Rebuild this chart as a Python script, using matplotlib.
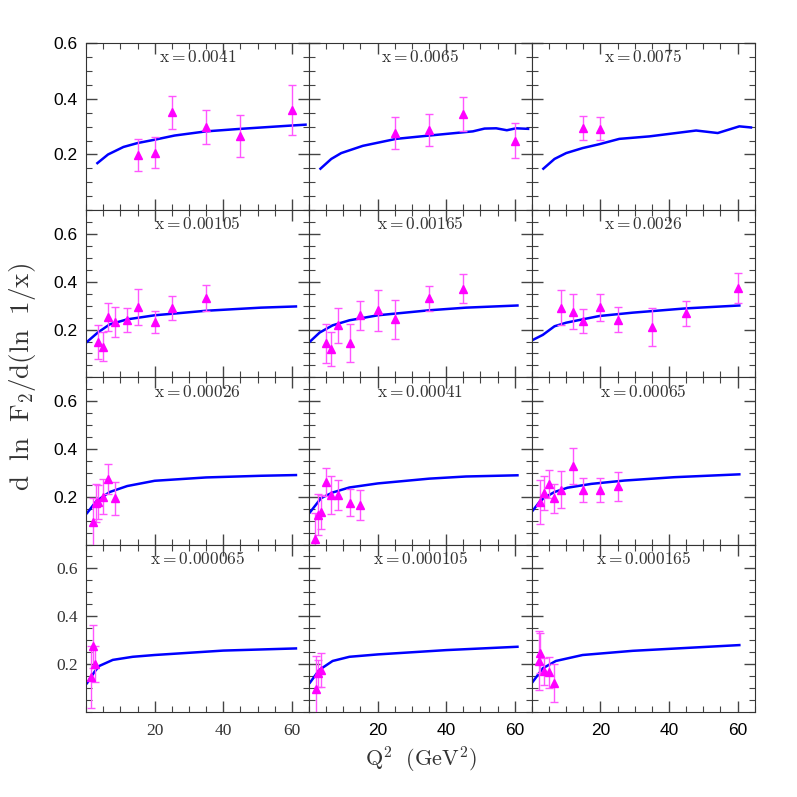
import matplotlib
matplotlib.use("Agg")
import matplotlib.pyplot as plt
from matplotlib.ticker import MultipleLocator

plt.rcParams["mathtext.fontset"] = "cm"

# panel order: row by row, left to right
XBINS = ["0.0041", "0.0065", "0.0075",
         "0.00105", "0.00165", "0.0026",
         "0.00026", "0.00041", "0.00065",
         "0.000065", "0.000105", "0.000165"]

# data points (Q^2, slope, error) per panel
Q_PTS = [
    [15, 20, 25, 35, 45, 60],
    [25, 35, 45, 60],
    [15, 20],
    [3.5, 5, 6.5, 8.5, 12, 15, 20, 25, 35],
    [5, 6.5, 8.5, 12, 15, 20, 25, 35, 45],
    [8.5, 12, 15, 20, 25, 35, 45, 60],
    [2.1, 2.9, 3.6, 5, 6.5, 8.5],
    [1.9, 2.5, 3.5, 5, 6.5, 8.5, 12, 15],
    [2.4, 3.4, 5, 6.5, 8.5, 12, 15, 20, 25],
    [1.5, 2, 2.5],
    [2, 2.5, 3.5],
    [2, 2.5, 3.5, 5, 6.5],
]
F_PTS = [
    [0.199, 0.206, 0.351, 0.299, 0.265, 0.360],
    [0.277, 0.287, 0.346, 0.250],
    [0.295, 0.293],
    [0.150, 0.128, 0.253, 0.233, 0.240, 0.294, 0.232, 0.289, 0.333],
    [0.142, 0.118, 0.218, 0.144, 0.260, 0.281, 0.243, 0.331, 0.372],
    [0.292, 0.275, 0.236, 0.293, 0.242, 0.211, 0.268, 0.375],
    [0.096, 0.174, 0.177, 0.200, 0.274, 0.193],
    [0.022, 0.125, 0.136, 0.262, 0.208, 0.208, 0.176, 0.165],
    [0.178, 0.215, 0.254, 0.194, 0.230, 0.330, 0.229, 0.229, 0.244],
    [0.147, 0.275, 0.200],
    [0.095, 0.161, 0.175],
    [0.214, 0.245, 0.169, 0.165, 0.120],
]
E_PTS = [
    [0.057, 0.055, 0.060, 0.060, 0.075, 0.090],
    [0.059, 0.057, 0.060, 0.064],
    [0.044, 0.041],
    [0.071, 0.060, 0.060, 0.063, 0.050, 0.076, 0.047, 0.050, 0.054],
    [0.080, 0.072, 0.072, 0.078, 0.060, 0.085, 0.083, 0.053, 0.061],
    [0.072, 0.073, 0.050, 0.056, 0.053, 0.080, 0.052, 0.063],
    [0.100, 0.078, 0.071, 0.074, 0.064, 0.070],
    [0.110, 0.085, 0.071, 0.060, 0.081, 0.064, 0.056, 0.064],
    [0.091, 0.071, 0.058, 0.061, 0.076, 0.076, 0.049, 0.050, 0.061],
    [0.130, 0.090, 0.076],
    [0.140, 0.057, 0.071],
    [0.124, 0.083, 0.057, 0.064, 0.081],
]

# model curves
Q_FIT = [
    [3.3, 6.4, 10.9, 15, 20, 25.8, 35, 45, 60, 64],
    [3.35, 6.5, 9.4, 15.7, 25.4, 35.1, 47.8, 51.2, 54.6, 57.7, 60.4, 63.9],
    [3.35, 6.6, 10, 14.8, 19.7, 25.5, 34.3, 47.9, 54.2, 60.5, 63.9],
    [0.3, 3.4, 6.9, 12, 20, 35, 51, 61.2],
    [0.3, 3.1, 6.9, 11.8, 20.1, 35.1, 45.8, 60.8],
    [0.3, 3.2, 6.6, 10, 14.8, 19.7, 29.4, 45, 60.5],
    [0.3, 3, 6.9, 12, 20, 35, 51, 61.2],
    [0.3, 3.5, 6.9, 11.8, 20.1, 35.1, 45.8, 60.8],
    [0.3, 2.2, 3.6, 6.6, 10.4, 17.3, 27, 41.5, 60.5],
    [0.3, 2.5, 3.9, 7.8, 13.6, 20, 40, 61.2],
    [0.3, 3.0, 6.9, 11.8, 20.1, 40, 60.8],
    [0.3, 3.2, 7, 14.8, 29.4, 60.5],
]
F_FIT = [
    [0.169, 0.200, 0.227, 0.241, 0.253, 0.268, 0.283, 0.292, 0.304, 0.307],
    [0.149, 0.184, 0.205, 0.231, 0.256, 0.268, 0.283, 0.293, 0.294, 0.287, 0.294, 0.292],
    [0.149, 0.184, 0.205, 0.223, 0.237, 0.256, 0.265, 0.286, 0.277, 0.301, 0.297],
    [0.149, 0.1875, 0.222, 0.243, 0.260, 0.279, 0.292, 0.297],
    [0.150, 0.1875, 0.218, 0.239, 0.260, 0.281, 0.292, 0.301],
    [0.157, 0.178, 0.214, 0.229, 0.243, 0.257, 0.271, 0.289, 0.301],
    [0.132, 0.182, 0.220, 0.245, 0.267, 0.281, 0.288, 0.291],
    [0.135, 0.194, 0.218, 0.239, 0.256, 0.276, 0.285, 0.290],
    [0.143, 0.178, 0.196, 0.220, 0.238, 0.254, 0.268, 0.282, 0.294],
    [0.120, 0.168, 0.192, 0.217, 0.230, 0.2375, 0.256, 0.265],
    [0.122, 0.175, 0.2125, 0.230, 0.240, 0.258, 0.272],
    [0.126, 0.182, 0.2125, 0.2375, 0.255, 0.279],
]

fig, axes = plt.subplots(4, 3, figsize=(7.97, 7.97), dpi=100)
fig.subplots_adjust(left=0.108, right=0.947, bottom=0.107, top=0.946, wspace=0, hspace=0)

for i, ax in enumerate(axes.flat):
    r, c = divmod(i, 3)
    ax.plot(Q_FIT[i], F_FIT[i], color="blue", lw=1.8, zorder=2)
    ax.errorbar(Q_PTS[i], F_PTS[i], yerr=E_PTS[i], fmt="^", color="magenta",
                ecolor="#ff55ff", ms=6, elinewidth=1, capsize=3, capthick=1, zorder=3)
    ax.text(0.5, 0.915, r"$\mathrm{x=%s}$" % XBINS[i], transform=ax.transAxes,
            ha="center", va="center", fontsize=12.5, color="#333333")
    ax.set_xlim(0, 65)
    ax.set_ylim(0, 0.6 if r == 0 else 0.7)
    ax.set_xticks([20, 40, 60])
    ax.xaxis.set_minor_locator(MultipleLocator(5))
    ax.set_yticks([0.2, 0.4, 0.6])
    ax.yaxis.set_minor_locator(MultipleLocator(0.05))
    ax.tick_params(which="both", direction="in", top=True, right=True, color="#444444")
    ax.tick_params(which="major", length=8, width=1)
    ax.tick_params(which="minor", length=4, width=0.8)
    for s in ax.spines.values():
        s.set_color("#333333")
    if c != 0:
        ax.set_yticklabels([])
    if r != 3:
        ax.set_xticklabels([])
    for lab in ax.get_xticklabels() + ax.get_yticklabels():
        if r == 3 and c == 0:
            lab.set_family("Liberation Serif")
            lab.set_color("#333333")
        else:
            lab.set_family("Liberation Sans")
        lab.set_fontsize(12.5)
    ax.tick_params(axis="x", pad=8)
    ax.tick_params(axis="y", pad=6)

fig.text(0.028, 0.527, r"$\mathrm{d\ \ ln\ \ F_2/d(ln\ \ 1/x)}$", rotation=90,
         ha="center", va="center", fontsize=19.5, color="#333333")
fig.text(0.528, 0.046, r"$\mathrm{Q^2\ \ (GeV^2)}$", ha="center", va="center",
         fontsize=16, color="#333333")

fig.savefig("out.png", dpi=100)
